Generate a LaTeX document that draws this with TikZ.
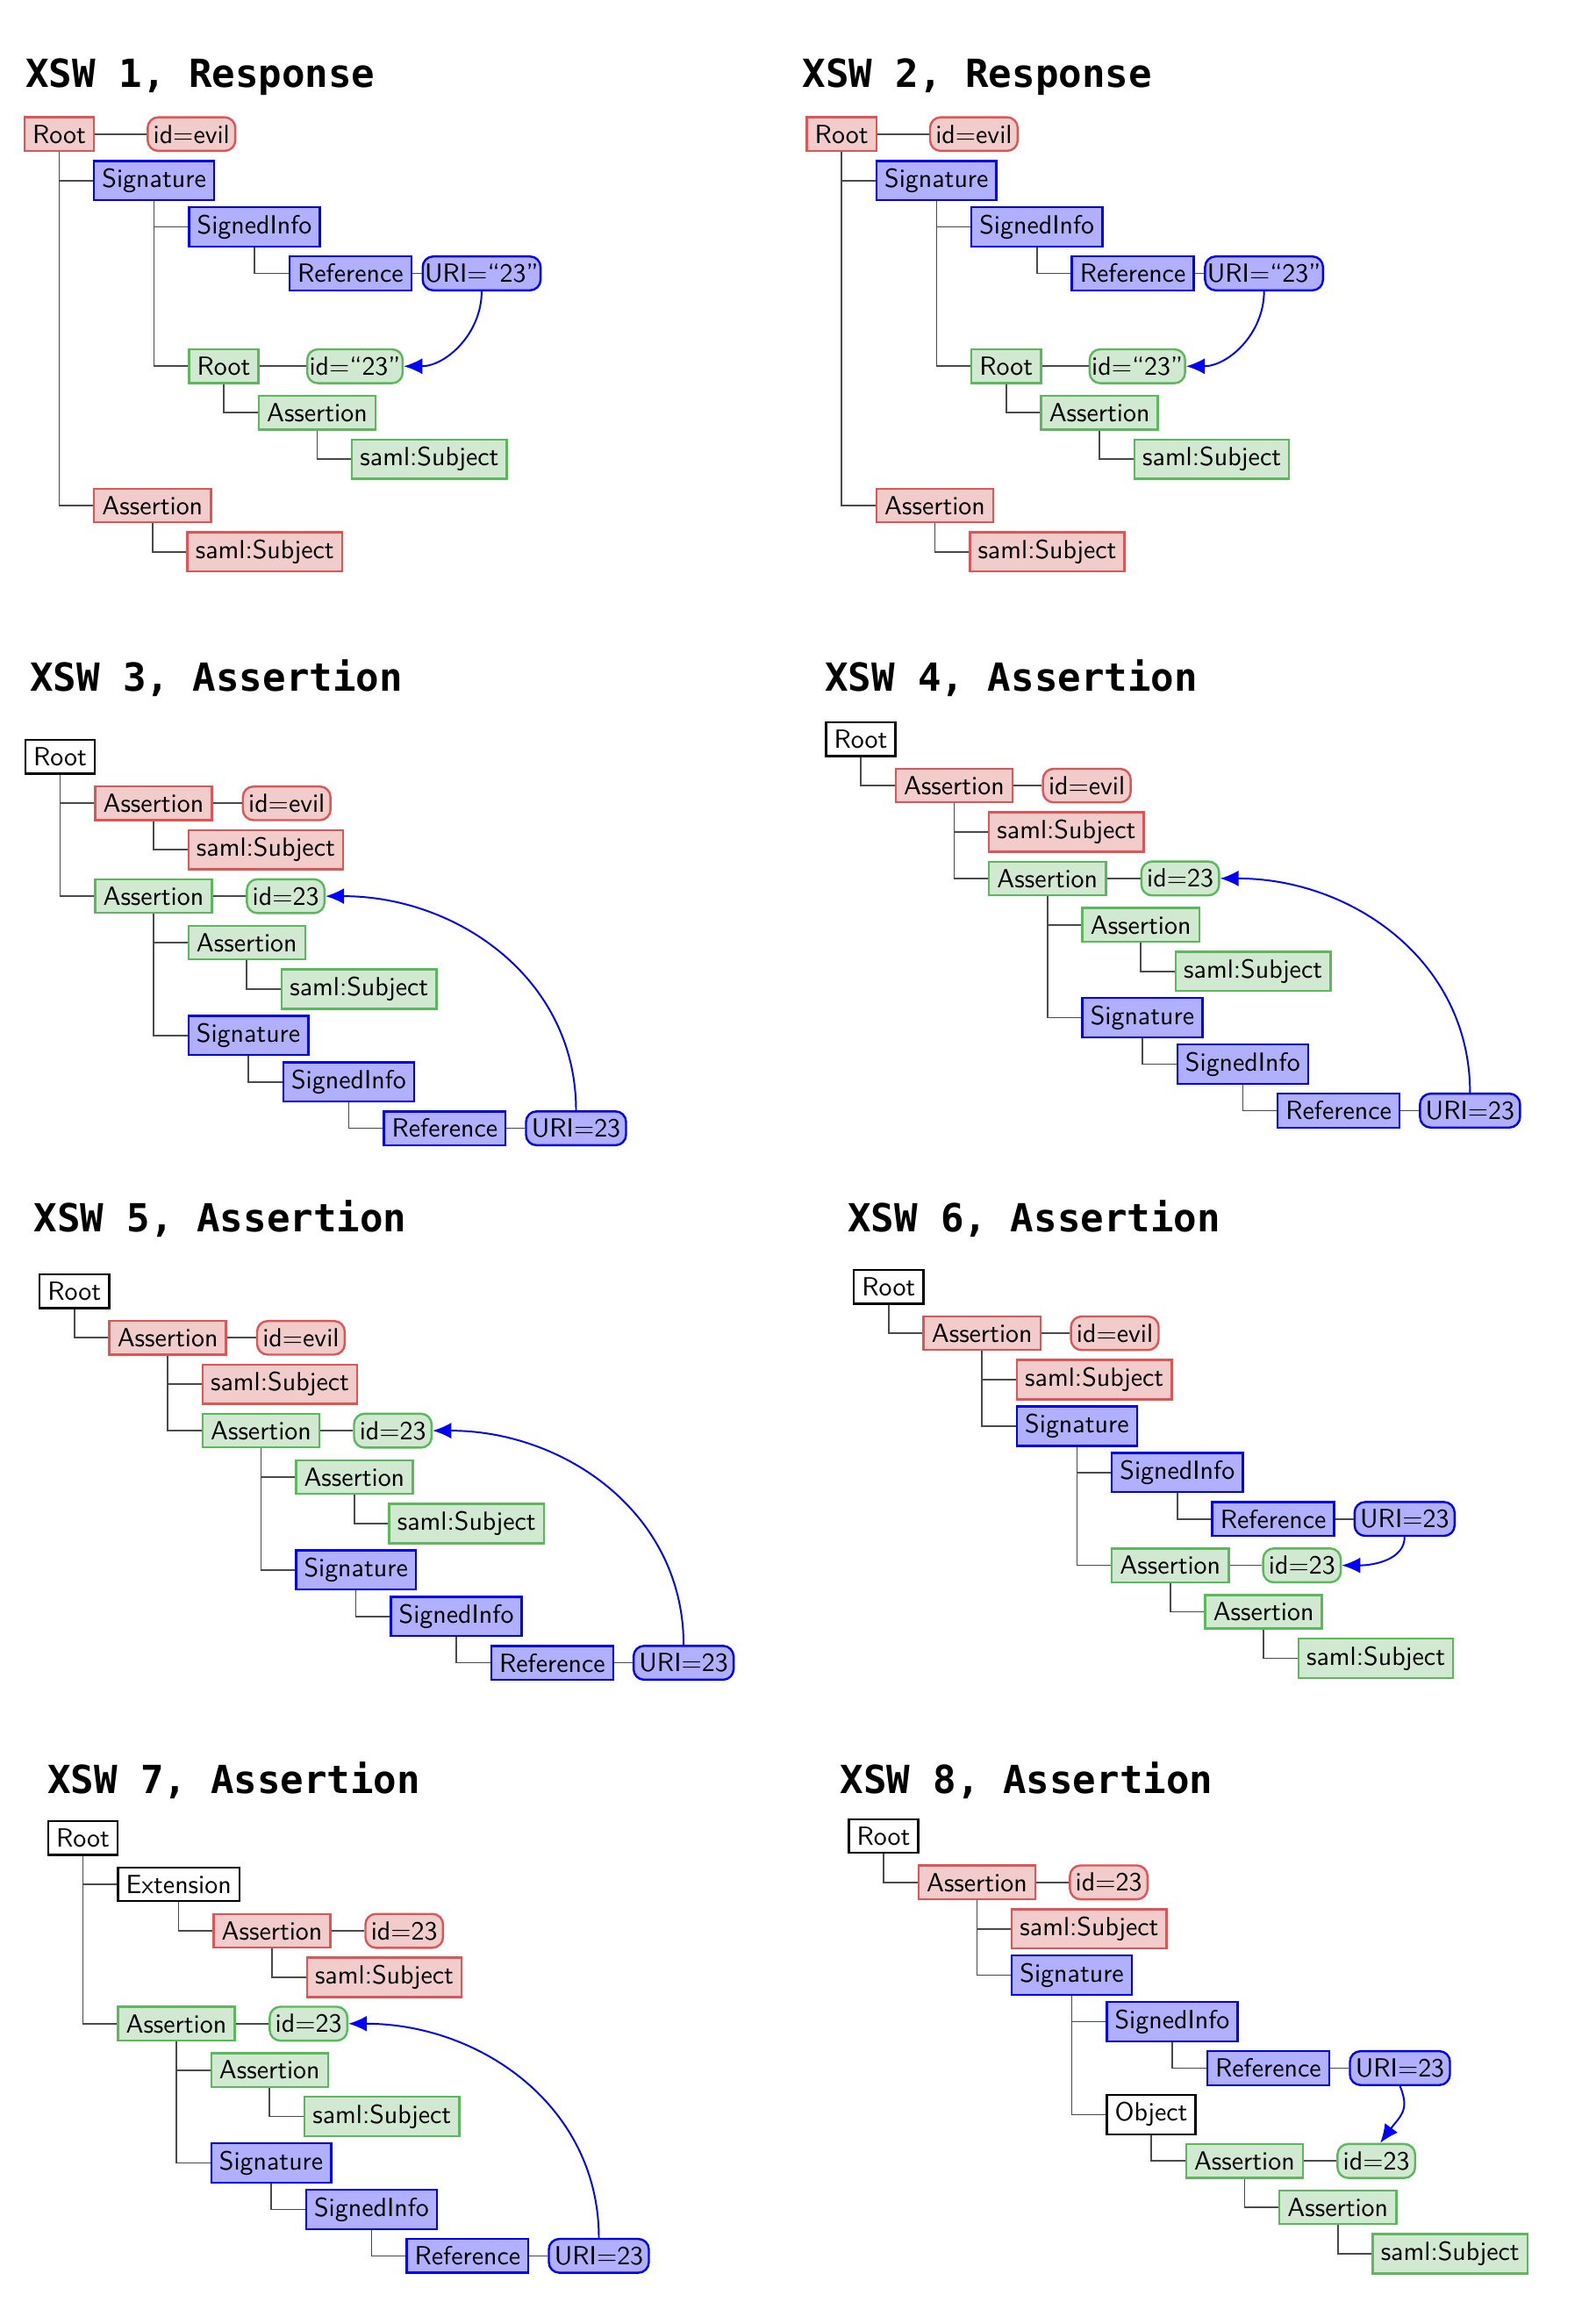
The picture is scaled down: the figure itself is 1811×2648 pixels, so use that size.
\documentclass[tikz,border=0pt]{standalone}
\usepackage{fontspec}
\newfontfamily\ttlfont{DejaVu Sans Mono}
\usetikzlibrary{calc,arrows.meta}
\definecolor{redfill}{HTML}{F2CBCB}
\definecolor{redline}{HTML}{DD5555}
\definecolor{greenfill}{HTML}{D1E9D1}
\definecolor{greenline}{HTML}{5CB85C}
\definecolor{bluefill}{HTML}{B0B0FF}
\definecolor{blueline}{HTML}{0000F0}
\definecolor{treeline}{HTML}{4A4A4A}
\tikzset{
  box/.style={draw, line width=0.8pt, inner xsep=3.05pt, inner ysep=2.85pt,
    font=\sffamily\fontsize{9.9}{12}\selectfont},
  rel/.style={box, fill=redfill, draw=redline},
  gel/.style={box, fill=greenfill, draw=greenline},
  bel/.style={box, fill=bluefill, draw=blueline},
  kel/.style={box, fill=white, draw=black},
  ratt/.style={rel, rounded corners=4pt, inner xsep=2.1pt},
  gatt/.style={gel, rounded corners=4pt, inner xsep=2.1pt},
  batt/.style={bel, rounded corners=4pt, inner xsep=2.1pt},
  tree/.style={draw=treeline, line width=0.55pt},
  refarrow/.style={draw=blue, line width=0.65pt, -{Latex[length=7pt,width=6pt]}},
  ttl/.style={font=\ttlfont\bfseries\fontsize{14.6}{17}\selectfont, inner sep=0pt, anchor=base west}
}
\newcommand{\xchild}[5]{\node[#1,anchor=west] (#2) at ($(#3.center)+(38.6,#4*52.9)$) {#5};\draw[tree] (#3.south) |- (#2.west);}
\newcommand{\xattr}[5]{\node[#1,anchor=west] (#2) at ($(#3.east)+(#4,0)$) {#5};\draw[tree] (#3.east) -- (#2.west);}
\newcommand{\panelResp}[3]{%
  \node[rel,anchor=west] (#1root) at (#2,#3) {Root};
  \xattr{ratt}{#1idevil}{#1root}{58.8}{id=evil}
  \xchild{bel}{#1sig}{#1root}{1}{Signature}
  \xchild{bel}{#1si}{#1sig}{1}{SignedInfo}
  \xchild{bel}{#1ref}{#1si}{1}{Reference}
  \xattr{batt,inner xsep=0.8pt}{#1uri}{#1ref}{10.5}{URI=“23”}
  \xchild{gel}{#1groot}{#1sig}{4}{Root}
  \xattr{gatt,inner xsep=0.8pt}{#1gid}{#1groot}{53}{id=“23”}
  \xchild{gel}{#1gas}{#1groot}{1}{Assertion}
  \xchild{gel}{#1gsj}{#1gas}{1}{saml:Subject}
  \xchild{rel}{#1ras}{#1root}{8}{Assertion}
  \xchild{rel}{#1rsj}{#1ras}{1}{saml:Subject}
  \draw[refarrow] (#1uri.south) .. controls +(0,48) and +(48,0) .. (#1gid.east);
}
\begin{document}
\begin{tikzpicture}[x=0.3311pt,y=-0.3311pt]
\useasboundingbox (0,0) rectangle (1811,2648);
\fill[white] (0,0) rectangle (1811,2648);

% titles
\node[ttl] (t1) at (28.7,99) {XSW 1, Response};
\node[ttl] (t2) at (914,99) {XSW 2, Response};
\node[ttl] (t3) at (33.4,787) {XSW 3, Assertion};
\node[ttl] (t4) at (939.5,787) {XSW 4, Assertion};
\node[ttl] (t5) at (38,1403) {XSW 5, Assertion};
\node[ttl] (t6) at (965.5,1403) {XSW 6, Assertion};
\node[ttl] (t7) at (53.6,2043.6) {XSW 7, Assertion};
\node[ttl] (t8) at (956.9,2043.6) {XSW 8, Assertion};

% XSW 1 and 2
\panelResp{a}{26.6}{152.8}
\panelResp{b}{918.3}{152.8}

% XSW 3
\node[kel,anchor=west] (croot) at (27.7,862.4) {Root};
\xchild{rel}{cras}{croot}{1}{Assertion}
\xattr{ratt}{crid}{cras}{32.9}{id=evil}
\xchild{rel}{crsj}{cras}{1}{saml:Subject}
\xchild{gel}{cgas}{croot}{3}{Assertion}
\xattr{gatt}{cgid}{cgas}{37.5}{id=23}
\xchild{gel}{cgas2}{cgas}{1}{Assertion}
\xchild{gel}{cgsj}{cgas2}{1}{saml:Subject}
\xchild{bel}{csig}{cgas}{3}{Signature}
\xchild{bel}{csi}{csig}{1}{SignedInfo}
\xchild{bel}{cref}{csi}{1}{Reference}
\xattr{batt}{curi}{cref}{20.8}{URI=23}
\draw[refarrow] (curi.north) .. controls +(0,-150) and +(150,0) .. (cgid.east);

% XSW 4
\node[kel,anchor=west] (droot) at (940.2,842.2) {Root};
\xchild{rel}{dras}{droot}{1}{Assertion}
\xattr{ratt}{drid}{dras}{32.3}{id=evil}
\xchild{rel}{drsj}{dras}{1}{saml:Subject}
\xchild{gel}{dgas}{dras}{2}{Assertion}
\xattr{gatt}{dgid}{dgas}{38.1}{id=23}
\xchild{gel}{dgas2}{dgas}{1}{Assertion}
\xchild{gel}{dgsj}{dgas2}{1}{saml:Subject}
\xchild{bel}{dsig}{dgas}{3}{Signature}
\xchild{bel}{dsi}{dsig}{1}{SignedInfo}
\xchild{bel}{dref}{dsi}{1}{Reference}
\xattr{batt}{duri}{dref}{20.8}{URI=23}
\draw[refarrow] (duri.north) .. controls +(0,-150) and +(150,0) .. (dgid.east);

% XSW 5
\node[kel,anchor=west] (eroot) at (43.9,1471.4) {Root};
\xchild{rel}{eras}{eroot}{1}{Assertion}
\xattr{ratt}{erid}{eras}{32.9}{id=evil}
\xchild{rel}{ersj}{eras}{1}{saml:Subject}
\xchild{gel}{egas}{eras}{2}{Assertion}
\xattr{gatt}{egid}{egas}{37}{id=23}
\xchild{gel}{egas2}{egas}{1}{Assertion}
\xchild{gel}{egsj}{egas2}{1}{saml:Subject}
\xchild{bel}{esig}{egas}{3}{Signature}
\xchild{bel}{esi}{esig}{1}{SignedInfo}
\xchild{bel}{eref}{esi}{1}{Reference}
\xattr{batt}{euri}{eref}{20.8}{URI=23}
\draw[refarrow] (euri.north) .. controls +(0,-150) and +(150,0) .. (egid.east);

% XSW 6
\node[kel,anchor=west] (froot) at (972,1466.2) {Root};
\xchild{rel}{fras}{froot}{1}{Assertion}
\xattr{ratt}{frid}{fras}{32.4}{id=evil}
\xchild{rel}{frsj}{fras}{1}{saml:Subject}
\xchild{bel}{fsig}{fras}{2}{Signature}
\xchild{bel}{fsi}{fsig}{1}{SignedInfo}
\xchild{bel}{fref}{fsi}{1}{Reference}
\xattr{batt}{furi}{fref}{20.8}{URI=23}
\xchild{gel}{fgas}{fsig}{3}{Assertion}
\xattr{gatt}{fgid}{fgas}{36.9}{id=23}
\xchild{gel}{fgas2}{fgas}{1}{Assertion}
\xchild{gel}{fgsj}{fgas2}{1}{saml:Subject}
\draw[refarrow] (furi.south) .. controls +(0,26) and +(36,0) .. (fgid.east);

% XSW 7
\node[kel,anchor=west] (groot) at (53.7,2094.2) {Root};
\xchild{kel}{gext}{groot}{1}{Extension}
\xchild{rel}{gras}{gext}{1}{Assertion}
\xattr{ratt}{grid}{gras}{37.5}{id=23}
\xchild{rel}{grsj}{gras}{1}{saml:Subject}
\xchild{gel}{ggas}{groot}{4}{Assertion}
\xattr{gatt}{ggid}{ggas}{37.5}{id=23}
\xchild{gel}{ggas2}{ggas}{1}{Assertion}
\xchild{gel}{ggsj}{ggas2}{1}{saml:Subject}
\xchild{bel}{gsig}{ggas}{3}{Signature}
\xchild{bel}{gsi}{gsig}{1}{SignedInfo}
\xchild{bel}{gref}{gsi}{1}{Reference}
\xattr{batt}{guri}{gref}{20.8}{URI=23}
\draw[refarrow] (guri.north) .. controls +(0,-150) and +(150,0) .. (ggid.east);

% XSW 8
\node[kel,anchor=west] (hroot) at (966.2,2091.9) {Root};
\xchild{rel}{hras}{hroot}{1}{Assertion}
\xattr{ratt}{hrid}{hras}{37}{id=23}
\xchild{rel}{hrsj}{hras}{1}{saml:Subject}
\xchild{bel}{hsig}{hras}{2}{Signature}
\xchild{bel}{hsi}{hsig}{1}{SignedInfo}
\xchild{bel}{href}{hsi}{1}{Reference}
\xattr{batt}{huri}{href}{21.3}{URI=23}
\xchild{kel}{hobj}{hsig}{3}{Object}
\xchild{gel}{hgas}{hobj}{1}{Assertion}
\xattr{gatt}{hgid}{hgas}{37}{id=23}
\xchild{gel}{hgas2}{hgas}{1}{Assertion}
\xchild{gel}{hgsj}{hgas2}{1}{saml:Subject}
\draw[refarrow] (huri.south) .. controls +(12,28) and +(22,-30) .. ([xshift=1.5pt]hgid.north);
\end{tikzpicture}
\end{document}
